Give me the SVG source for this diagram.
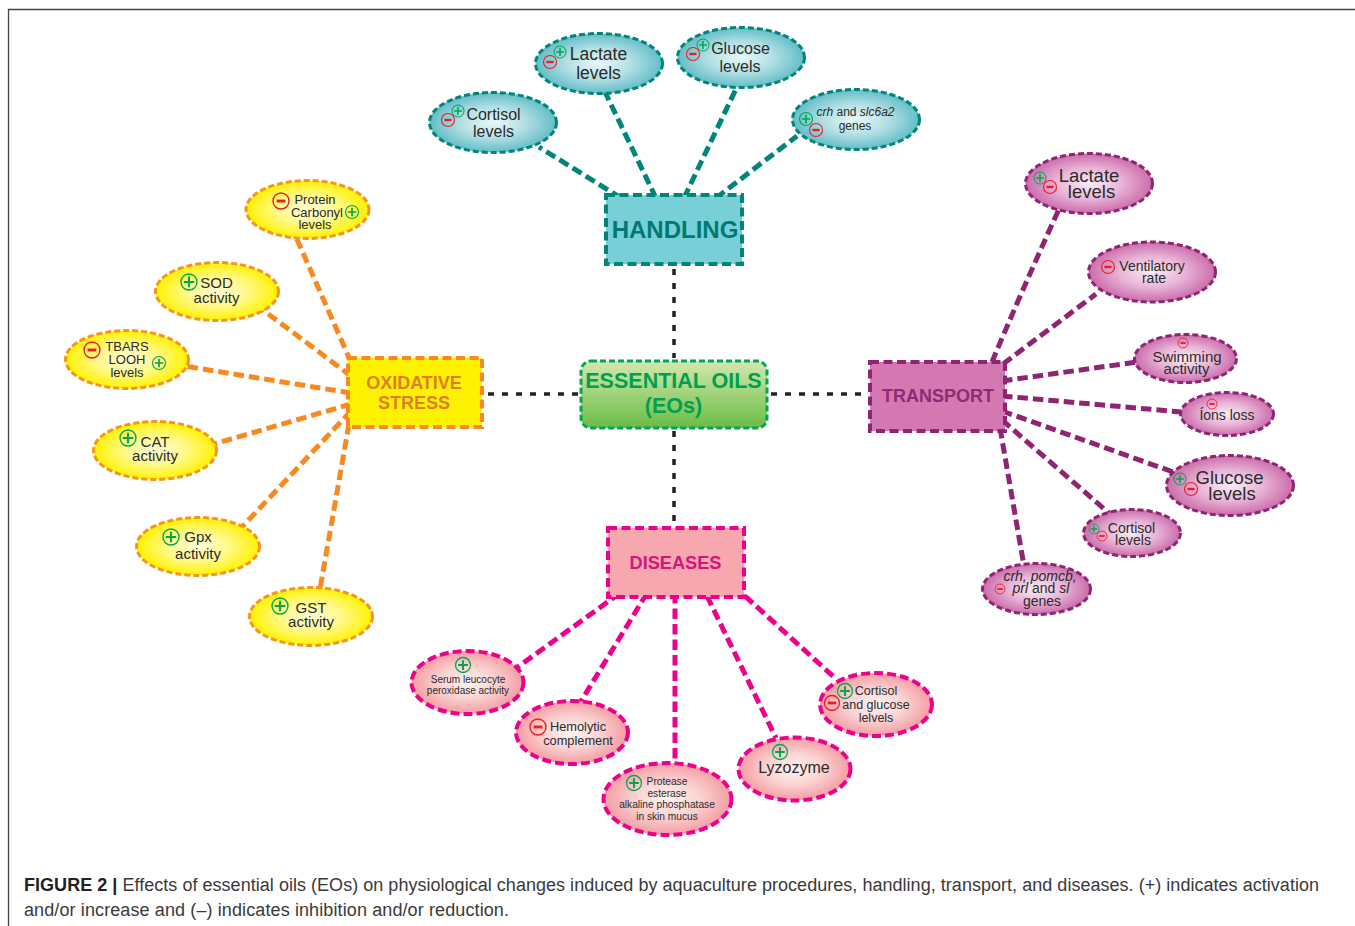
<svg xmlns="http://www.w3.org/2000/svg" width="1355" height="926" viewBox="0 0 1355 926">
<style>
text{font-family:"Liberation Sans",Arial,sans-serif;fill:#2b2b2b;text-anchor:middle}
.i{font-style:italic}
.hd{font-weight:bold}
.el{stroke-width:3;stroke-dasharray:6 3}
.teal{fill:url(#gT);stroke:#00857a}
.yel{fill:url(#gY);stroke:#f7941d}
.pur{fill:url(#gP);stroke:#8e2472}
.pnk{fill:url(#gK);stroke:#ec008c;stroke-width:4;stroke-dasharray:9 4}
.bx{stroke-width:4;stroke-dasharray:9 4.5}
.ln{fill:none;stroke-width:5;stroke-dasharray:10.500 5}
.blk{fill:none;stroke:#222;stroke-width:3.5;stroke-dasharray:6 8}
</style>
<defs>
<radialGradient id="gT"><stop offset="0" stop-color="#e9f7f8"/><stop offset=".5" stop-color="#b4e0e5"/><stop offset="1" stop-color="#62bdc7"/></radialGradient>
<radialGradient id="gY"><stop offset="0" stop-color="#fffcd8"/><stop offset=".5" stop-color="#fff98a"/><stop offset="1" stop-color="#fff200"/></radialGradient>
<radialGradient id="gP"><stop offset="0" stop-color="#f9ebf4"/><stop offset=".5" stop-color="#e9b6d8"/><stop offset="1" stop-color="#cb6cab"/></radialGradient>
<radialGradient id="gK"><stop offset="0" stop-color="#fff3f1"/><stop offset=".5" stop-color="#fbd3d2"/><stop offset="1" stop-color="#f39ca2"/></radialGradient>
<linearGradient id="gG" x1="0" y1="0" x2="0" y2="1"><stop offset="0" stop-color="#d5e8ae"/><stop offset="1" stop-color="#69bd45"/></linearGradient>
<g id="plus"><circle r="10" fill="none" stroke="#00a651" stroke-width="1.7"/><path d="M-6.500 0H6.500M0-6.500V6.500" stroke="#00a651" stroke-width="2.600" fill="none"/></g>
<g id="minus"><circle r="10" fill="none" stroke="#ed1c24" stroke-width="1.700"/><path d="M-5.500 0H5.500" stroke="#ed1c24" stroke-width="3.600" fill="none"/></g>
</defs>

<path id="frame" d="M8.500 926V9.500H1355" fill="none" stroke="#444" stroke-width="1.300"/>

<g id="connectors">
<g class="ln" style="stroke:#00857a">
<path d="M621 198L539 147"/><path d="M656 198L605 92"/><path d="M684 198L736 89"/><path d="M716 198L797 136"/>
</g>
<g class="ln" style="stroke:#f7891f">
<path d="M351 362L296 237"/><path d="M351 376L263 310"/><path d="M351 393L184 366"/><path d="M351 404L214 444"/><path d="M351 411L242 527"/><path d="M349 424L320 589"/>
</g>
<g class="ln" style="stroke:#8e2472">
<path d="M992 362Q1020 295 1059 209"/><path d="M1003 364L1096 294"/><path d="M1002 381L1137 362"/><path d="M1002 396L1181 412"/><path d="M1002 411L1176 473"/><path d="M1002 420L1110 514"/><path d="M1000 428L1024 566"/>
</g>
<g class="ln" style="stroke:#ec008c">
<path d="M620 593L515 669"/><path d="M647 593L580 703"/><path d="M675 593V764"/><path d="M707 596L776 738"/><path d="M745 596L835 678"/>
</g>
<path class="blk" d="M674 269V358"/><path class="blk" d="M674 431V524"/><path class="blk" d="M488 394H580"/><path class="blk" d="M771 394H869"/>
</g>

<g id="eos"><rect x="581" y="361" width="186" height="67" rx="10" fill="url(#gG)" stroke="#00a651" stroke-width="3" stroke-dasharray="6 3"/>
<text class="hd" x="673.500" y="388" font-size="21.500" style="fill:#00a04f">ESSENTIAL OILS</text><text class="hd" x="673.500" y="413" font-size="21.500" style="fill:#00a04f">(EOs)</text></g>

<g id="handling"><rect class="bx" x="606" y="195" width="136" height="69" fill="#79cfd8" stroke="#00857a"/>
<text class="hd" x="675" y="238" font-size="24" style="fill:#007a70">HANDLING</text></g>

<g id="oxidative"><rect class="bx" x="348" y="358" width="134" height="69" fill="#fff200" stroke="#f7891f"/>
<text class="hd" x="414" y="389" font-size="18" style="fill:#e07d2c">OXIDATIVE</text><text class="hd" x="414" y="409" font-size="18" style="fill:#e07d2c">STRESS</text></g>

<g id="transport"><rect class="bx" x="870" y="362" width="135" height="69" fill="#d478b4" stroke="#8e2472"/>
<text class="hd" x="938" y="402" font-size="18" style="fill:#8f2a73">TRANSPORT</text></g>

<g id="diseases"><rect class="bx" x="608" y="528" width="136" height="69" fill="#f7a8ae" stroke="#ec008c"/>
<text class="hd" x="675.500" y="569" font-size="18" textLength="92" lengthAdjust="spacingAndGlyphs" style="fill:#d4147f">DISEASES</text></g>

<g id="h-cortisol"><ellipse class="el teal" cx="493" cy="122.500" rx="63.500" ry="30"/><use href="#plus" transform="translate(458 111) scale(.6)"/><use href="#minus" transform="translate(448 120) scale(.65)"/><text x="493.500" y="119.500" font-size="16">Cortisol</text><text x="493.500" y="137" font-size="16">levels</text></g>
<g id="h-lactate"><ellipse class="el teal" cx="599" cy="63.500" rx="63.500" ry="30"/><use href="#plus" transform="translate(560 52) scale(.6)"/><use href="#minus" transform="translate(550 62) scale(.65)"/><text x="598.500" y="60" font-size="17.500">Lactate</text><text x="598.500" y="79" font-size="17.500">levels</text></g>
<g id="h-glucose"><ellipse class="el teal" cx="741" cy="57.500" rx="63.500" ry="30"/><use href="#plus" transform="translate(703 45) scale(.6)"/><use href="#minus" transform="translate(693 54) scale(.65)"/><text x="740.500" y="54" font-size="16">Glucose</text><text x="740" y="72" font-size="16">levels</text></g>
<g id="h-genes"><ellipse class="el teal" cx="856" cy="119.500" rx="63.500" ry="30"/><use href="#plus" transform="translate(806 119) scale(.65)"/><use href="#minus" transform="translate(816 130) scale(.65)"/><text x="855.500" y="116" font-size="12"><tspan class="i">crh</tspan> and <tspan class="i">slc6a2</tspan></text><text x="855" y="130" font-size="12">genes</text></g>

<g id="o-protein"><ellipse class="el yel" cx="307.500" cy="209.500" rx="61.500" ry="29"/><use href="#minus" transform="translate(281 201) scale(.8)"/><use href="#plus" transform="translate(352 212) scale(.65)"/><text x="315" y="204" font-size="13">Protein</text><text x="317" y="216.500" font-size="13">Carbonyl</text><text x="315" y="229" font-size="13">levels</text></g>
<g id="o-sod"><ellipse class="el yel" cx="217" cy="291.500" rx="61.500" ry="29"/><use href="#plus" transform="translate(189 282) scale(.8)"/><text x="216.500" y="288" font-size="15">SOD</text><text x="216.500" y="303" font-size="15">activity</text></g>
<g id="o-tbars"><ellipse class="el yel" cx="127" cy="359.500" rx="61.500" ry="29"/><use href="#minus" transform="translate(92 350) scale(.8)"/><use href="#plus" transform="translate(159 363) scale(.65)"/><text x="127" y="351" font-size="13">TBARS</text><text x="127" y="364" font-size="13">LOOH</text><text x="127" y="377" font-size="13">levels</text></g>
<g id="o-cat"><ellipse class="el yel" cx="155" cy="450.500" rx="61.500" ry="29"/><use href="#plus" transform="translate(128 438) scale(.8)"/><text x="155" y="447" font-size="15">CAT</text><text x="155" y="461" font-size="15">activity</text></g>
<g id="o-gpx"><ellipse class="el yel" cx="198" cy="546.500" rx="61.500" ry="29"/><use href="#plus" transform="translate(171 537) scale(.8)"/><text x="198" y="542" font-size="15">Gpx</text><text x="198" y="559" font-size="15">activity</text></g>
<g id="o-gst"><ellipse class="el yel" cx="311" cy="616.500" rx="61.500" ry="29"/><use href="#plus" transform="translate(280 606) scale(.8)"/><text x="311" y="613" font-size="15">GST</text><text x="311" y="627" font-size="15">activity</text></g>

<g id="t-lactate"><ellipse class="el pur" cx="1089" cy="183.500" rx="63.500" ry="30"/><use href="#plus" transform="translate(1040 178) scale(.6)"/><use href="#minus" transform="translate(1050 187) scale(.65)"/><text x="1089" y="182" font-size="18.500">Lactate</text><text x="1091.500" y="198" font-size="18.500">levels</text></g>
<g id="t-vent"><ellipse class="el pur" cx="1152" cy="272" rx="63.500" ry="30"/><use href="#minus" transform="translate(1108 267) scale(.65)"/><text x="1152" y="271" font-size="14">Ventilatory</text><text x="1154" y="283" font-size="14">rate</text></g>
<g id="t-swim"><ellipse class="el pur" cx="1185.500" cy="358.500" rx="51" ry="24"/><use href="#minus" transform="translate(1183 343) scale(.5)"/><text x="1187" y="361.500" font-size="15">Swimming</text><text x="1186.500" y="374" font-size="15">activity</text></g>
<g id="t-ions"><ellipse class="el pur" cx="1227" cy="414" rx="46.500" ry="21.500"/><use href="#minus" transform="translate(1212 404) scale(.5)"/><text x="1227" y="420" font-size="14">Íons loss</text></g>
<g id="t-glucose"><ellipse class="el pur" cx="1230" cy="485.500" rx="63.500" ry="30"/><use href="#plus" transform="translate(1180 479) scale(.6)"/><use href="#minus" transform="translate(1191 489) scale(.65)"/><text x="1229.500" y="484" font-size="18.500">Glucose</text><text x="1232" y="500" font-size="18.500">levels</text></g>
<g id="t-cortisol"><ellipse class="el pur" cx="1132" cy="533" rx="48.500" ry="23.500"/><use href="#plus" transform="translate(1094 529) scale(.5)"/><use href="#minus" transform="translate(1102 536) scale(.5)"/><text x="1131.500" y="533" font-size="14">Cortisol</text><text x="1133" y="545" font-size="14">levels</text></g>
<g id="t-genes"><ellipse class="el pur" cx="1036.500" cy="589" rx="54" ry="25.500"/><use href="#minus" transform="translate(1000 589) scale(.5)"/><text class="i" x="1040" y="581" font-size="14">crh, pomcb,</text><text x="1041" y="593" font-size="14"><tspan class="i">prl</tspan> and <tspan class="i">sl</tspan></text><text x="1042" y="606" font-size="14">genes</text></g>

<g id="d-serum"><ellipse class="pnk" cx="467.500" cy="682.500" rx="56" ry="31.500"/><use href="#plus" transform="translate(463 665) scale(.75)"/><text x="468" y="683" font-size="10">Serum leucocyte</text><text x="468" y="694" font-size="10">peroxidase activity</text></g>
<g id="d-hemolytic"><ellipse class="pnk" cx="572" cy="732.500" rx="56" ry="31.500"/><use href="#minus" transform="translate(538 727) scale(.8)"/><text x="578" y="731" font-size="12.800">Hemolytic</text><text x="578" y="745" font-size="12.800">complement</text></g>
<g id="d-protease"><ellipse class="pnk" cx="667.500" cy="799" rx="64" ry="36"/><use href="#plus" transform="translate(634 783) scale(.75)"/><text x="667" y="785" font-size="10.200">Protease</text><text x="667" y="797" font-size="10.200">esterase</text><text x="667" y="808" font-size="10.200">alkaline phosphatase</text><text x="667" y="820" font-size="10.200">in skin mucus</text></g>
<g id="d-lyzozyme"><ellipse class="pnk" cx="794.500" cy="769" rx="56" ry="31.500"/><use href="#plus" transform="translate(780 752) scale(.75)"/><text x="794" y="773" font-size="16">Lyzozyme</text></g>
<g id="d-cortisol"><ellipse class="pnk" cx="876" cy="704.500" rx="56" ry="31.500"/><use href="#plus" transform="translate(845 691) scale(.75)"/><use href="#minus" transform="translate(832 703) scale(.75)"/><text x="876" y="695" font-size="12.500">Cortisol</text><text x="876" y="709" font-size="12.500">and glucose</text><text x="876" y="722" font-size="12.500">lelvels</text></g>

<g id="caption"><text x="24" y="891" font-size="18" style="text-anchor:start;fill:#3a3a3a" textLength="1295" lengthAdjust="spacing"><tspan class="hd" style="fill:#222">FIGURE 2 |</tspan> Effects of essential oils (EOs) on physiological changes induced by aquaculture procedures, handling, transport, and diseases. (+) indicates activation</text><text x="24" y="916" font-size="18" style="text-anchor:start;fill:#3a3a3a" textLength="485" lengthAdjust="spacing">and/or increase and (–) indicates inhibition and/or reduction.</text></g>
</svg>
